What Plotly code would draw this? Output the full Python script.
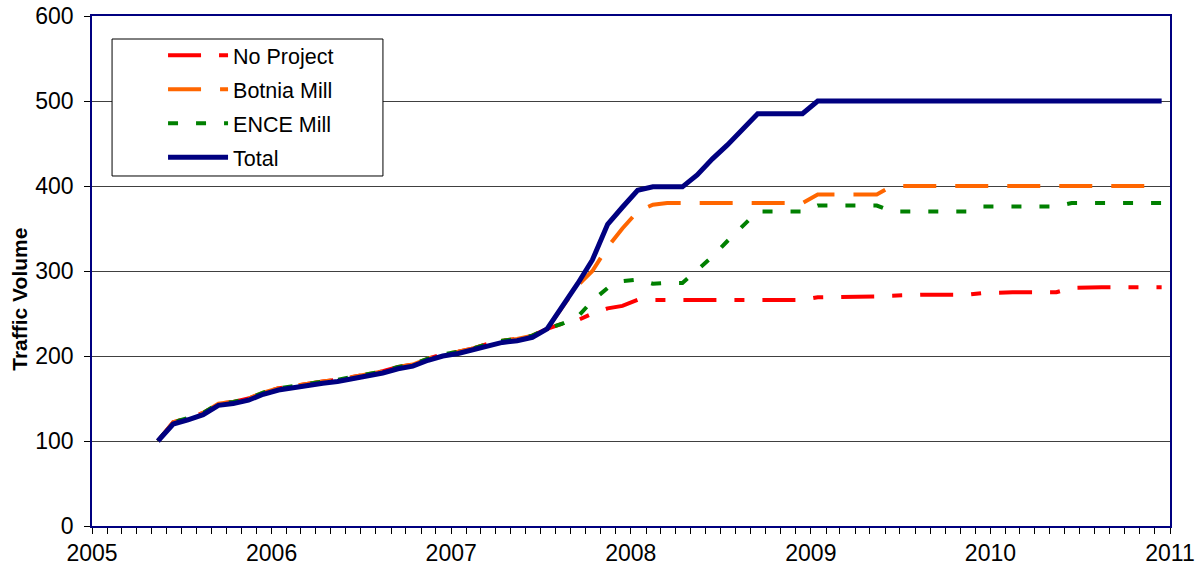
import plotly.graph_objects as go

# Monthly observations, mid-month, May 2005 .. Dec 2010
start_year, start_month, n_months = 2005, 5, 68
dates = []
for k in range(n_months):
    m = start_month - 1 + k
    dates.append(f"{start_year + m // 12}-{m % 12 + 1:02d}-15")

no_project = [100, 122, 127, 133, 144, 146, 150, 157, 162, 165, 168, 170, 172, 175, 179, 182,
              187, 190, 197, 202, 205, 209, 214, 218, 220, 224,
              232, 238, 242, 250, 256, 259, 266, 266, 266, 266, 266, 266, 266, 266, 266, 266, 266, 266,
              269, 269, 269, 269, 270, 271, 272, 272, 272, 272, 272, 274, 275, 275, 275, 275, 275, 280,
              281, 281, 281, 281, 281, 281]

botnia = [100, 122, 127, 133, 144, 146, 150, 157, 162, 165, 168, 170, 172, 175, 179, 182,
          187, 190, 197, 202, 205, 209, 214, 218, 220, 224,
          232, 258, 283, 300, 328, 350, 370, 378, 380, 380, 380, 380, 380, 380, 380, 380, 380, 380,
          390, 390, 390, 390, 390, 400, 400, 400, 400, 400, 400, 400, 400, 400, 400, 400, 400, 400,
          400, 400, 400, 400, 400, 400]

ence = [100, 122, 127, 133, 144, 146, 150, 157, 162, 165, 168, 170, 172, 175, 179, 182,
        187, 190, 197, 202, 205, 209, 214, 218, 220, 224,
        232, 238, 246, 265, 280, 288, 290, 285, 286, 286, 301, 317, 335, 353, 370, 370, 370, 370,
        377, 377, 377, 377, 377, 370, 370, 370, 370, 370, 370, 376, 376, 376, 376, 376, 376, 380,
        380, 380, 380, 380, 380, 380]

total = [100, 120, 125, 131, 142, 144, 148, 155, 160, 163, 166, 168, 170, 173, 177, 180,
         185, 188, 195, 200, 203, 207, 212, 216, 218, 222,
         232, 258, 285, 313, 355, 375, 395, 399, 399, 399, 413, 432, 448, 467, 485, 485, 485, 485,
         500, 500, 500, 500, 500, 500, 500, 500, 500, 500, 500, 500, 500, 500, 500, 500, 500, 500,
         500, 500, 500, 500, 500, 500]

series_names = ["No Project", "Botnia Mill", "ENCE Mill", "Total"]
y_ticks = [0, 100, 200, 300, 400, 500, 600]
y_title = "Traffic Volume"

FONT = "Liberation Sans, Arial, sans-serif"
NAVY = "#000080"

fig = go.Figure()
styles = [
    dict(color="#FF0000", width=4, dash="33px,18px,10px,18px"),
    dict(color="#FF6600", width=4, dash="33px,19px"),
    dict(color="#008000", width=4, dash="10px,18px"),
    dict(color=NAVY, width=5, dash="solid"),
]
for name, vals, st in zip(series_names, [no_project, botnia, ence, total], styles):
    fig.add_trace(go.Scatter(x=dates, y=vals, mode="lines", name=name, line=st,
                             legendgroup=name))

# legend frame (white box covering gridline, like the original)
fig.add_shape(type="rect", xref="paper", yref="paper",
              x0=0.0186, x1=0.2699, y0=0.6863, y1=0.9549,
              line=dict(color="black", width=1), fillcolor="white", layer="above")

# y-axis title, placed slightly below centre as in the original
fig.add_annotation(text=f"<b>{y_title}</b>", xref="paper", yref="paper",
                   x=-0.068, y=0.445, xanchor="center", yanchor="middle",
                   textangle=-90, showarrow=False, font=dict(size=21, color="black"))

fig.update_layout(
    width=1196, height=571,
    margin=dict(l=92, r=26, t=16, b=45),
    paper_bgcolor="white", plot_bgcolor="white",
    font=dict(family=FONT, size=21, color="black"),
    showlegend=True,
    legend=dict(x=0.0659, y=0.963, xanchor="left", yanchor="top",
                bgcolor="rgba(0,0,0,0)", borderwidth=0,
                font=dict(size=21.5), tracegroupgap=3, itemwidth=60),
    xaxis=dict(type="date", range=["2005-01-01", "2011-01-01"], dtick="M12", tick0="2005-01-01",
               tickformat="%Y", ticks="outside", ticklen=6, tickcolor="black",
               showline=True, linecolor=NAVY, linewidth=1.5, mirror=True,
               showgrid=False, zeroline=False, automargin=False,
               minor=dict(dtick="M1", ticks="outside", ticklen=6, tickcolor="black", showgrid=False),
               tickfont=dict(size=23)),
    yaxis=dict(range=[0, 600], tickvals=y_ticks, ticks="outside", ticklen=6, tickcolor="black",
               showline=True, linecolor=NAVY, linewidth=1.5, mirror=True,
               showgrid=True, gridcolor="#404040", gridwidth=1, zeroline=False, automargin=False,
               tickfont=dict(size=23), ticklabelstandoff=6),
)

fig.write_html("out.html", config={"displayModeBar": False},
               post_script="document.body.style.margin='0';")
